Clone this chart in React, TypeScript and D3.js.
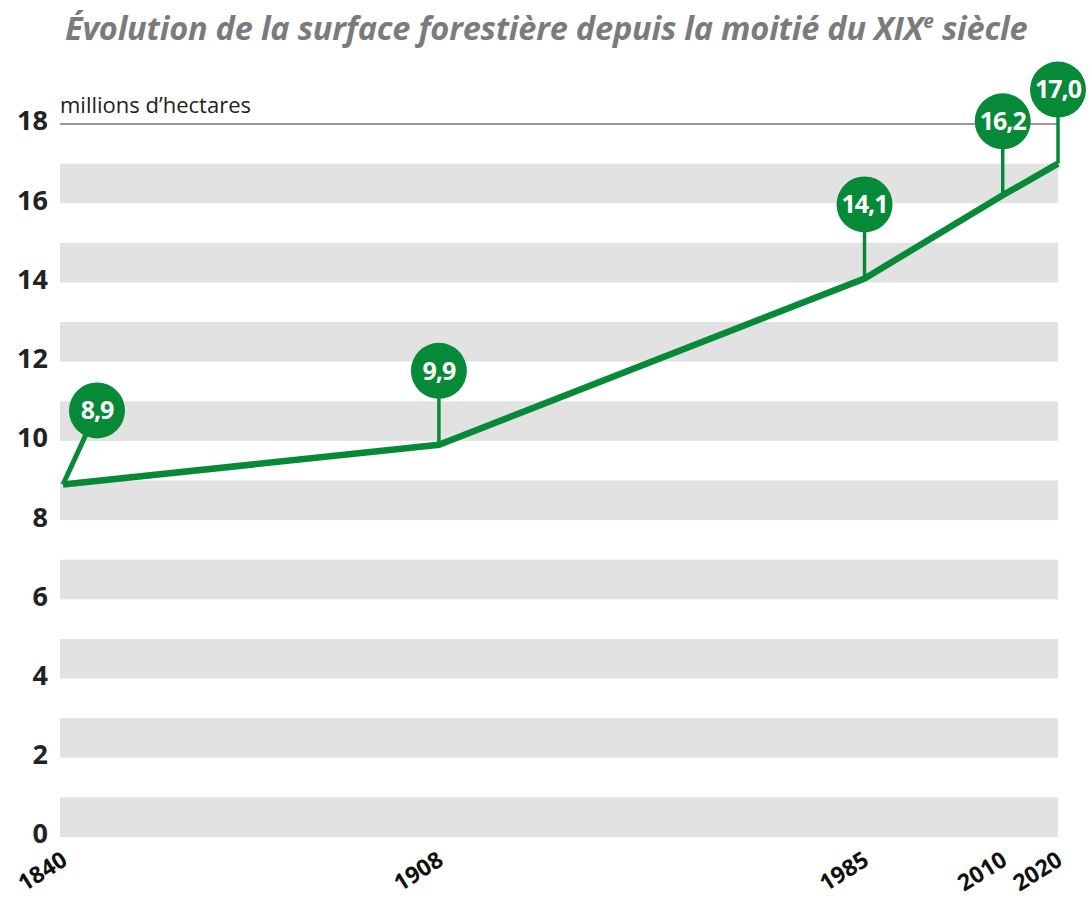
import React, { useEffect, useRef } from 'react';
import * as d3 from 'd3';

// surface forestière (millions d'hectares)
const years = [1840, 1908, 1985, 2010, 2020];
const surface = [8.9, 9.9, 14.1, 16.2, 17.0];
const valueLabels = ['8,9', '9,9', '14,1', '16,2', '17,0'];
const yTicks = [0, 2, 4, 6, 8, 10, 12, 14, 16, 18];
const bandStarts = [0, 2, 4, 6, 8, 10, 12, 14, 16];

const GREEN = '#078a37';

const App: React.FC = () => {
  const chartRef = useRef<SVGSVGElement>(null);

  useEffect(() => {
    document.body.style.margin = '0';
    const svg = d3.select(chartRef.current);
    svg.selectAll('*').remove();

    const x = d3.scaleLinear().domain([1840, 2020]).range([63, 1058]);
    const y = d3.scaleLinear().domain([0, 18]).range([837, 124]);
    const left = 60;
    const right = 1058;

    // title
    const title = svg.append('text')
      .attr('x', 65)
      .attr('y', 40)
      .attr('font-family', 'Open Sans')
      .attr('font-style', 'italic')
      .attr('font-weight', 'bold')
      .attr('font-size', 32.5)
      .attr('letter-spacing', -0.2)
      .attr('fill', '#7b7b7b');
    title.append('tspan').text('Évolution de la surface forestière depuis la moitié du XIX');
    title.append('tspan').attr('font-size', 19).attr('dy', -12).text('e');
    title.append('tspan').attr('dy', 12).text(' siècle');

    // gray bands
    svg.append('g')
      .selectAll('rect')
      .data(bandStarts)
      .enter().append('rect')
      .attr('x', left)
      .attr('width', right - left)
      .attr('y', d => y(d + 1))
      .attr('height', d => y(d) - y(d + 1))
      .attr('fill', '#e2e2e2');

    // top line
    svg.append('line')
      .attr('x1', left).attr('x2', right)
      .attr('y1', y(18)).attr('y2', y(18))
      .attr('stroke', '#9a9a9a')
      .attr('stroke-width', 2);

    svg.append('text')
      .attr('x', 60)
      .attr('y', 113)
      .attr('font-family', 'Open Sans')
      .attr('font-size', 22)
      .attr('fill', '#222')
      .text('millions d’hectares');

    // y axis
    const yAxis = svg.append('g')
      .attr('transform', `translate(48,0)`)
      .call(d3.axisLeft(y).tickValues(yTicks).tickSize(0).tickPadding(0).tickFormat(d3.format('d')));
    yAxis.select('.domain').remove();
    yAxis.selectAll('text')
      .attr('font-family', 'Open Sans')
      .attr('font-weight', 'bold')
      .attr('font-size', 27)
      .attr('fill', '#222')
      .attr('dy', '0.22em');

    // x labels
    svg.append('g')
      .selectAll('text')
      .data(years)
      .enter().append('text')
      .attr('transform', d => `translate(${x(d) + 6},864) rotate(-32)`)
      .attr('text-anchor', 'end')
      .attr('font-family', 'Open Sans')
      .attr('font-weight', 'bold')
      .attr('font-size', 23)
      .attr('fill', '#111')
      .text(d => d);

    const pts = years.map((yr, i) => ({ yr, v: surface[i], label: valueLabels[i], i }));

    // line
    const line = d3.line<{ yr: number; v: number }>()
      .x(d => x(d.yr))
      .y(d => y(d.v));
    svg.append('path')
      .datum(pts)
      .attr('d', line)
      .attr('fill', 'none')
      .attr('stroke', GREEN)
      .attr('stroke-width', 6.5)
      .attr('stroke-linejoin', 'miter');

    // bubbles
    const rise = 74;
    const r = 28;
    const bubble = svg.append('g')
      .selectAll('g')
      .data(pts)
      .enter().append('g');
    bubble.append('line')
      .attr('x1', d => x(d.yr))
      .attr('y1', d => y(d.v))
      .attr('x2', d => x(d.yr) + (d.i === 0 ? 34 : 0))
      .attr('y2', d => y(d.v) - rise)
      .attr('stroke', GREEN)
      .attr('stroke-width', d => (d.i === 0 ? 5 : 3.5));
    bubble.append('circle')
      .attr('cx', d => x(d.yr) + (d.i === 0 ? 34 : 0))
      .attr('cy', d => y(d.v) - rise)
      .attr('r', r)
      .attr('fill', GREEN);
    bubble.append('text')
      .attr('x', d => x(d.yr) + (d.i === 0 ? 34 : 0))
      .attr('y', d => y(d.v) - rise)
      .attr('dy', '0.35em')
      .attr('text-anchor', 'middle')
      .attr('font-family', 'Open Sans')
      .attr('font-weight', 'bold')
      .attr('font-size', 25)
      .attr('letter-spacing', -1)
      .attr('fill', '#fff')
      .text(d => d.label);
  }, []);

  return (
    <svg ref={chartRef} width="1089" height="901" style={{ display: 'block' }}></svg>
  );
};

export default App;
